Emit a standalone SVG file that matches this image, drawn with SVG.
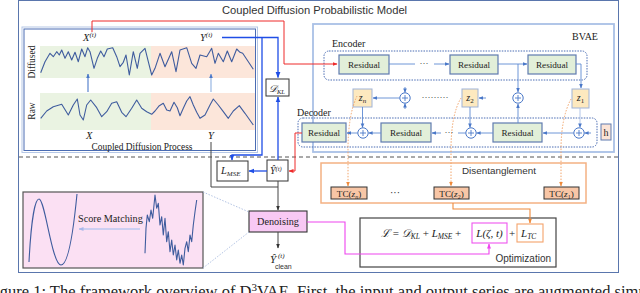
<svg xmlns="http://www.w3.org/2000/svg" width="640" height="293" viewBox="0 0 640 293">
<defs>
<style>
.ser{font-family:"Liberation Serif","Times New Roman",serif;fill:#222}
.san{font-family:"Liberation Sans",Arial,sans-serif;fill:#333}
.it{font-style:italic}
.res{fill:#e2efd9;stroke:#5f7bb0;stroke-width:1.2}
.zb{fill:#fde9bf;stroke:#9fb3d8;stroke-width:1}
.cir{fill:#fff;stroke:#4a78c8;stroke-width:1}
.pl{stroke:#4a78c8;stroke-width:0.9;fill:none}
.ln{stroke:#5d8ad2;stroke-width:0.9;fill:none}
.blue{stroke:#1f4ee6;stroke-width:1.3;fill:none}
.red{stroke:#ee2b2b;stroke-width:1;fill:none}
.dark{stroke:#444;stroke-width:1;fill:none}
.org{stroke:#ee8a3c;stroke-width:1.1;fill:none}
.odot{stroke:#f2a46a;stroke-width:1;fill:none;stroke-dasharray:1.5 1.5}
.mag{stroke:#ee44ee;stroke-width:1.1;fill:none}
.wave{stroke:#3f5c9e;stroke-width:1.1;fill:none;stroke-linejoin:round}
.tc{fill:#f8c6a6;stroke:#333;stroke-width:1}
</style>
<marker id="mB" viewBox="0 0 10 10" refX="9" refY="5" markerWidth="6" markerHeight="6" orient="auto" markerUnits="userSpaceOnUse"><path d="M0,1L10,5L0,9z" fill="#1f4ee6"/></marker>
<marker id="mR" viewBox="0 0 10 10" refX="9" refY="5" markerWidth="5" markerHeight="5" orient="auto" markerUnits="userSpaceOnUse"><path d="M0,1L10,5L0,9z" fill="#ee2b2b"/></marker>
<marker id="mD" viewBox="0 0 10 10" refX="9" refY="5" markerWidth="5" markerHeight="5" orient="auto" markerUnits="userSpaceOnUse"><path d="M0,1L10,5L0,9z" fill="#333"/></marker>
<marker id="mO" viewBox="0 0 10 10" refX="9" refY="5" markerWidth="5" markerHeight="5" orient="auto" markerUnits="userSpaceOnUse"><path d="M0,1L10,5L0,9z" fill="#ee8a3c"/></marker>
<marker id="mM" viewBox="0 0 10 10" refX="9" refY="5" markerWidth="5" markerHeight="5" orient="auto" markerUnits="userSpaceOnUse"><path d="M0,1L10,5L0,9z" fill="#ee44ee"/></marker>
<marker id="mL" viewBox="0 0 10 10" refX="9" refY="5" markerWidth="4.5" markerHeight="4.5" orient="auto" markerUnits="userSpaceOnUse"><path d="M0,1L10,5L0,9z" fill="#4a78c8"/></marker>
<marker id="mP" viewBox="0 0 10 10" refX="9" refY="5" markerWidth="5" markerHeight="5" orient="auto" markerUnits="userSpaceOnUse"><path d="M0,1L10,5L0,9z" fill="#a9b8ea"/></marker>
</defs>
<rect width="640" height="293" fill="#fff"/>

<!-- outer frame -->
<g id="frame">
<rect x="18.5" y="0.5" width="600" height="272" fill="#fff" stroke="#5a76ad" stroke-width="1"/>
<text class="san" x="222" y="14" font-size="11.2">Coupled Diffusion Probabilistic Model</text>
<line x1="19" y1="157" x2="618" y2="157" stroke="#555" stroke-width="1" stroke-dasharray="4 3"/>
</g>

<!-- coupled diffusion process -->
<g id="cdp">
<rect x="22" y="27" width="235.5" height="125.5" fill="#fff" stroke="#b5c7e6" stroke-width="1"/>
<rect x="24" y="29" width="231.5" height="121.5" fill="none" stroke="#4a6cb3" stroke-width="1"/>
<rect x="40" y="46" width="111" height="32" fill="#eaf3e2"/>
<rect x="151" y="46" width="104" height="32" fill="#fce6da"/>
<rect x="40" y="93" width="111" height="37" fill="#eaf3e2"/>
<rect x="151" y="93" width="104" height="37" fill="#fce6da"/>
<polyline class="wave" points="40.7,72.7 45,61.7 50,53.3 53.3,56.7 56.7,51.7 59.3,55 61.7,50 65,58.3 68.3,51.7 71.7,60 75,52.3 78.3,61.7 81.7,49 85,56.7 87.7,47.7 90,51.7 94,68.3 97.3,58.3 100.7,51 104,56.7 107.3,49 112.7,47.7 116.7,56.7 120,66.7 123.3,62.3 126,55 129.3,75 133.3,51.7 137.3,68.3 140,53.3 145,48.3 148.3,61.7 151.7,75 155,68.3 160,53.3 165,66.7 171.7,51.7 176,71.7 180,50 186.7,47.7 191.7,63.3 196,68.3 200,55 206.7,56.7 211.7,48.3 215,63.3 218.3,53.3 223.3,61.7 227.3,51 231.7,61.7 236.7,49 240,52.3 242.7,53.3 253.3,69.3"/>
<polyline class="wave" points="40.7,118.3 46.7,111 53.3,106.7 61.7,104.3 68.3,115 73.3,105 77.3,99 80,115 83.3,120 86.7,105 90.7,100 96.7,107.7 101.7,116.7 106.7,111.7 111.7,103.3 116.7,101.7 121.7,112.3 126,116.7 131.7,108.3 136.7,100 141.7,108.3 146.7,111.7 151.7,114.3 155,111 159.3,105.7 163.3,103.3 166.7,110 170,111 174,102.3 177.3,107.7 180,115.7 183.3,108.3 186.7,101 190,96.7 193.3,105 196.7,112.3 200,118.3 205,115 210,105 213.3,99 218.3,105 223.3,111.7 228.3,118.3 233.3,111 239.3,105.7 245,113.3 253.3,125"/>
<line x1="88" y1="92" x2="88" y2="74" stroke="#4a78c8" stroke-width="1.1" marker-end="url(#mL)"/>
<line x1="211" y1="92" x2="211" y2="74" stroke="#8fb0e0" stroke-width="1.1" marker-end="url(#mL)"/>
<text class="ser" font-size="9.5" text-anchor="middle" transform="translate(35,62) rotate(-90)">Diffused</text>
<text class="ser" font-size="9.5" text-anchor="middle" transform="translate(35,111) rotate(-90)">Raw</text>
<text class="ser it" x="83" y="41" font-size="10.5">X<tspan font-size="7" dy="-4">(t)</tspan></text>
<text class="ser it" x="200" y="41" font-size="10.5">Y<tspan font-size="7" dy="-4">(t)</tspan></text>
<text class="ser it" x="86" y="139" font-size="10.5">X</text>
<text class="ser it" x="208" y="139" font-size="10.5">Y</text>
<text class="ser" x="142" y="150" font-size="9.4" text-anchor="middle">Coupled Diffusion Process</text>
</g>

<!-- BVAE -->
<g id="bvae">
<rect x="313" y="24" width="301" height="128" fill="#fff" stroke="#a9c0e6" stroke-width="1.8"/>
<text class="ser" x="585" y="40" font-size="10" text-anchor="middle">BVAE</text>
<text class="ser" x="332" y="47" font-size="10">Encoder</text>
<rect x="324" y="51" width="263" height="29" rx="5" fill="none" stroke="#4a6cb3" stroke-width="1" stroke-dasharray="1.5 1.2"/>
<text class="ser" x="297" y="116" font-size="10">Decoder</text>
<rect x="298" y="118" width="299" height="29" rx="5" fill="none" stroke="#4a6cb3" stroke-width="1" stroke-dasharray="1.5 1.2"/>
</g>

<g id="enc-res1"><rect class="res" x="339" y="55" width="50" height="19"/><text class="ser" x="364" y="67.5" font-size="9.2" text-anchor="middle">Residual</text></g>
<g id="enc-res2"><rect class="res" x="450" y="55" width="48" height="19"/><text class="ser" x="474" y="67.5" font-size="9.2" text-anchor="middle">Residual</text></g>
<g id="enc-res3"><rect class="res" x="528" y="55" width="48" height="19"/><text class="ser" x="552" y="67.5" font-size="9.2" text-anchor="middle">Residual</text></g>
<g id="dec-res1"><rect class="res" x="302" y="123" width="44" height="19"/><text class="ser" x="324" y="135.5" font-size="9.2" text-anchor="middle">Residual</text></g>
<g id="dec-res2"><rect class="res" x="381" y="123" width="50" height="19"/><text class="ser" x="406" y="135.5" font-size="9.2" text-anchor="middle">Residual</text></g>
<g id="dec-res3"><rect class="res" x="493" y="123" width="49" height="19"/><text class="ser" x="517.5" y="135.5" font-size="9.2" text-anchor="middle">Residual</text></g>

<g id="zn"><rect class="zb" x="353" y="89" width="19" height="18"/><text class="ser it" x="362.5" y="101" font-size="10" text-anchor="middle">z<tspan font-size="7" dy="2">n</tspan></text></g>
<g id="z2"><rect class="zb" x="462" y="89" width="16" height="18"/><text class="ser it" x="470" y="101" font-size="10" text-anchor="middle">z<tspan font-size="7" dy="2" font-style="normal">2</tspan></text></g>
<g id="z1"><rect class="zb" x="572" y="89" width="17" height="19"/><text class="ser it" x="580.5" y="101" font-size="10" text-anchor="middle">z<tspan font-size="7" dy="2" font-style="normal">1</tspan></text></g>
<g id="h"><rect x="601" y="124" width="10" height="16" fill="#fce4d6" stroke="#5f7bb0" stroke-width="1"/><text class="ser" x="606" y="136" font-size="10" text-anchor="middle">h</text></g>

<g id="sums">
<g><circle class="cir" cx="405" cy="98" r="5.2"/><path class="pl" d="M402,98H408M405,95V101"/></g>
<g><circle class="cir" cx="518" cy="98" r="5.2"/><path class="pl" d="M515,98H521M518,95V101"/></g>
<g><circle class="cir" cx="363" cy="133" r="5.2"/><path class="pl" d="M360,133H366M363,130V136"/></g>
<g><circle class="cir" cx="471" cy="133" r="5.2"/><path class="pl" d="M468,133H474M471,130V136"/></g>
<g><circle class="cir" cx="579" cy="133" r="5.2"/><path class="pl" d="M576,133H582M579,130V136"/></g>
</g>

<g id="disent">
<rect x="321" y="163" width="265" height="40" fill="#fff" stroke="#f4b183" stroke-width="1.5"/>
<text class="san" x="499" y="174" font-size="9.9" text-anchor="middle">Disentanglement</text>
<text class="san" x="395" y="196" font-size="10" text-anchor="middle">···</text>
</g>
<g id="tc-zn"><rect class="tc" x="331" y="187" width="36" height="12"/><text class="ser" x="349" y="196.5" font-size="9.2" text-anchor="middle">TC(<tspan font-style="italic">z</tspan><tspan font-size="6" dy="2" font-style="italic">n</tspan><tspan dy="-2">)</tspan></text></g>
<g id="tc-z2"><rect class="tc" x="434" y="187" width="35" height="12"/><text class="ser" x="451.5" y="196.5" font-size="9.2" text-anchor="middle">TC(<tspan font-style="italic">z</tspan><tspan font-size="6" dy="2">2</tspan><tspan dy="-2">)</tspan></text></g>
<g id="tc-z1"><rect class="tc" x="544" y="187" width="35" height="12"/><text class="ser" x="561.5" y="196.5" font-size="9.2" text-anchor="middle">TC(<tspan font-style="italic">z</tspan><tspan font-size="6" dy="2">1</tspan><tspan dy="-2">)</tspan></text></g>

<g id="optim">
<rect x="360" y="218" width="196" height="49" fill="#fff" stroke="#444" stroke-width="1.2"/>
<text class="ser it" x="381" y="237" font-size="11">ℒ <tspan font-style="normal">=</tspan> 𝒟<tspan font-size="7.5" dy="2">KL</tspan><tspan dy="-2" font-style="normal"> + </tspan>L<tspan font-size="7.5" dy="2">MSE</tspan><tspan dy="-2" font-style="normal"> +</tspan></text>
<rect x="472" y="223" width="35" height="20" fill="none" stroke="#ee55ee" stroke-width="1.1"/>
<text class="ser it" x="489.5" y="237" font-size="11" text-anchor="middle">L(ζ, t)</text>
<text class="ser" x="512" y="237" font-size="11" text-anchor="middle">+</text>
<rect x="517" y="224" width="26" height="18" fill="none" stroke="#f4a36b" stroke-width="1.1"/>
<text class="ser it" x="521" y="237" font-size="11">L<tspan font-size="7.5" dy="2">TC</tspan></text>
<text class="san" x="551" y="262" font-size="10" text-anchor="end">Optimization</text>
</g>

<g id="dkl"><rect x="266" y="79" width="23" height="17" fill="#fff" stroke="#333" stroke-width="1"/><text class="ser it" x="269" y="91.5" font-size="10">𝒟<tspan font-size="6.5" dy="2">KL</tspan></text></g>
<g id="lmse"><rect x="217" y="161" width="31" height="20" fill="#fff" stroke="#333" stroke-width="1"/><text class="ser it" x="221" y="174" font-size="10.5">L<tspan font-size="7" dy="2">MSE</tspan></text></g>
<g id="yhat"><rect x="267" y="160" width="21" height="21" fill="#fff" stroke="#333" stroke-width="1"/><text class="ser it" x="270" y="174" font-size="10">Ŷ<tspan font-size="6.5" dy="-3">(t)</tspan></text></g>

<g id="score">
<rect x="23" y="192" width="180" height="76" fill="#fbe0f3" stroke="#555" stroke-width="1.2"/>
<path class="wave" d="M29,262C31,222 35,199 39,199C45,199 52,265 61,265C69,265 74,225 77,194"/>
<polyline class="wave" points="145,253.3 146,228.3 147.3,215 149.3,221.7 151,210 152.7,218.3 155,195 156.7,208.3 158.3,203.3 160,225 161.7,216.7 163.3,235 165,218.3 166.7,241.7 168.3,231.7 170,251.7 171.7,240 173.3,255 175,245 176.7,260 178.3,250 180,263.3 181.7,255 183.3,265 185,248.3 186.7,241.7 188.3,251.7 190,235 191.7,241.7 193.3,225 195,211.7 196.7,200"/>
<text class="ser" x="78" y="222" font-size="10.2">Score Matching</text>
<line x1="140" y1="229" x2="79" y2="229" stroke="#bcc8f0" stroke-width="1.5" marker-end="url(#mP)"/>
</g>

<g id="denoise"><rect x="249" y="211" width="58" height="21" fill="#f8c9f4" stroke="#333" stroke-width="1.1"/><text class="ser" x="278" y="225" font-size="10.2" text-anchor="middle">Denoising</text></g>
<g id="clean"><text class="ser it" x="270" y="263" font-size="11">Ŷ</text><text class="ser it" x="278" y="258" font-size="7">(t)</text><text class="san" x="275" y="269" font-size="7">clean</text></g>

<g id="connectors">
<path class="red" d="M92,32V21H284V64H337" marker-end="url(#mR)"/>
<path class="red" d="M302,133H295V171H289" marker-end="url(#mR)"/>
<path class="blue" d="M222,37.5H278V77.5" marker-end="url(#mB)"/>
<path class="blue" d="M262,37.5V155H232V160" marker-end="url(#mB)"/>
<path class="blue" d="M278,160V97" marker-end="url(#mB)"/>
<path class="blue" d="M267,171H249" marker-end="url(#mB)"/>
<path class="dark" d="M211,142V187H278"/>
<path class="dark" d="M278,181V210" marker-end="url(#mD)"/>
<path class="dark" d="M278,232V248" marker-end="url(#mD)"/>
<path d="M203,192L249,212M203,268L249,232" stroke="#9fb4dc" stroke-width="0.8" stroke-dasharray="1.5 1.5" fill="none"/>
<path class="mag" d="M307,222H345V254H489V244" marker-end="url(#mM)"/>
<path class="org" d="M453,203V209H530V223" marker-end="url(#mO)"/>
<path class="odot" d="M357,96Q348,115 348,150V186" marker-end="url(#mO)"/>
<path class="odot" d="M461,98Q451,115 451,150V186" marker-end="url(#mO)"/>
<path class="odot" d="M571,99Q561,118 561,150V186" marker-end="url(#mO)"/>
<!-- encoder -->
<path class="ln" d="M389,64H415"/>
<text class="ser" x="424" y="66" font-size="9" text-anchor="middle">···</text>
<path class="ln" d="M434,64H449" marker-end="url(#mL)"/>
<path class="ln" d="M498,64H527" marker-end="url(#mL)"/>
<path class="ln" d="M518,64V92" marker-end="url(#mL)"/>
<path class="ln" d="M576,64H581V88" marker-end="url(#mL)"/>
<!-- latent row -->
<path class="ln" d="M399.8,98H373" marker-end="url(#mL)"/>
<path class="ln" d="M405,87V92.5" marker-end="url(#mL)"/>
<path class="ln" d="M405,109V103.5" marker-end="url(#mL)"/>
<text class="ser" x="435" y="100" font-size="9" text-anchor="middle">·········</text>
<path class="ln" d="M486,98H479" marker-end="url(#mL)"/>
<path class="ln" d="M518,123V104" marker-end="url(#mL)"/>
<!-- decoder -->
<path class="ln" d="M362.5,107V127.5" marker-end="url(#mL)"/>
<path class="ln" d="M357.8,133H347" marker-end="url(#mL)"/>
<path class="ln" d="M381,133H368.6" marker-end="url(#mL)"/>
<path class="ln" d="M465.8,133H458"/>
<text class="ser" x="449" y="135" font-size="9" text-anchor="middle">···</text>
<path class="ln" d="M441,133H432" marker-end="url(#mL)"/>
<path class="ln" d="M470,107V127.5" marker-end="url(#mL)"/>
<path class="ln" d="M493,133H476.6" marker-end="url(#mL)"/>
<path d="M580,108V127.5" stroke="#a9c0e6" stroke-width="0.9" fill="none" marker-end="url(#mL)"/>
<path class="ln" d="M573.8,133H543" marker-end="url(#mL)"/>
<path class="ln" d="M591,133H584.6" marker-end="url(#mL)"/>
</g>

<text class="ser" x="-14" y="297" font-size="16.5">Figure 1: The framework overview of D<tspan font-size="11" dy="-6">3</tspan><tspan dy="6">VAE. First, the input and output series are augmented simu</tspan></text>
</svg>
